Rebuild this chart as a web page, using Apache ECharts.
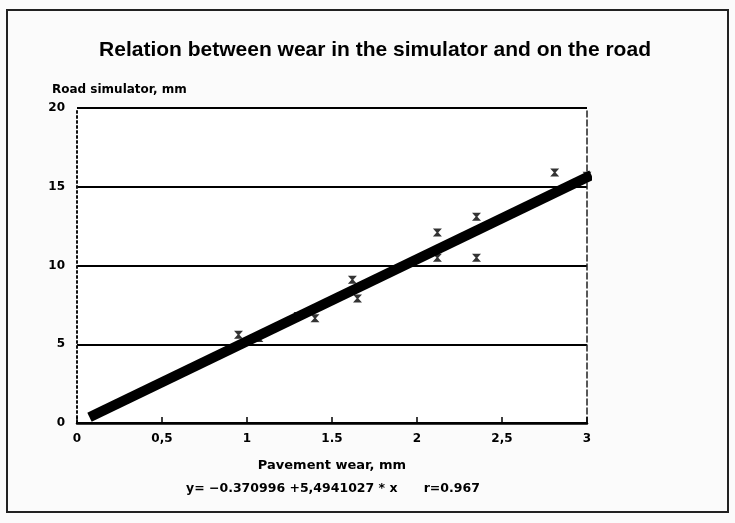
<!DOCTYPE html>
<html>
<head>
<meta charset="utf-8">
<script src="https://cdn.jsdelivr.net/npm/echarts@6/dist/echarts.min.js"></script>
<style>
  html, body { margin: 0; padding: 0; background: #fbfbfb; }
  #chart { width: 735px; height: 523px; }
</style>
</head>
<body>
<div id="chart"></div>
<script>
// measured points: pavement wear (mm) vs simulator wear (mm)
const pavementWear = [0.95, 1.07, 1.3, 1.4, 1.62, 1.65, 2.12, 2.12, 2.35, 2.35, 2.81, 3.0]
const simulatorWear = [5.6, 5.4, 6.8, 6.65, 9.1, 7.9, 12.1, 10.5, 13.1, 10.5, 15.9, 15.7]

// fitted line ends, as drawn
const fitX = [0.1, 3.0]
const fitY = [0.5, 15.6]

const xTickLabels = { 0: '0', 0.5: '0,5', 1: '1', 1.5: '1.5', 2: '2', 2.5: '2,5', 3: '3' }
const yTickLabels = ['0', '5', '10', '15', '20']

const font = 'Liberation Sans, Arial, sans-serif'
const wide = 'DejaVu Sans, Liberation Sans, sans-serif'

const chart = echarts.init(document.getElementById('chart'))

const option = {
  animation: false,
  backgroundColor: '#fbfbfb',
  title: {
    text: 'Relation between wear in the simulator and on the road',
    left: 370,
    textAlign: 'center',
    top: 35,
    textStyle: { fontFamily: font, fontWeight: 'bold', fontSize: 21, color: '#000' }
  },
  grid: { left: 77, right: 148, top: 108, bottom: 100, backgroundColor: '#fff', show: true, borderWidth: 0 },
  xAxis: {
    type: 'value',
    min: 0,
    max: 3,
    interval: 0.5,
    axisLine: { lineStyle: { color: '#000', width: 2.5 } },
    axisTick: { inside: true, length: 6, lineStyle: { color: '#000', width: 1.5 } },
    axisLabel: {
      margin: 10,
      fontFamily: wide, fontWeight: 'bold', fontSize: 12, color: '#000',
      formatter: v => xTickLabels[v]
    },
    splitLine: { show: false },
    name: 'Pavement wear, mm',
    nameLocation: 'middle',
    nameGap: 36,
    nameTextStyle: { fontFamily: wide, fontWeight: 'bold', fontSize: 13, color: '#000' }
  },
  yAxis: [{
    type: 'value',
    min: 0,
    max: 20,
    interval: 5,
    axisLine: { show: true, lineStyle: { color: '#111', width: 2, type: [2, 3] } },
    axisTick: { show: false },
    axisLabel: {
      margin: 12,
      fontFamily: wide, fontWeight: 'bold', fontSize: 12, color: '#000',
      formatter: v => yTickLabels[v / 5]
    },
    splitLine: { show: true, lineStyle: { color: '#000', width: 2 } },
    name: 'Road simulator, mm',
    nameLocation: 'end',
    nameGap: 12,
    nameTextStyle: { fontFamily: wide, fontWeight: 'bold', fontSize: 12, color: '#000', align: 'left', padding: [0, 0, 0, -25] }
  }, {
    type: 'value',
    position: 'right',
    min: 0,
    max: 20,
    interval: 5,
    axisLine: { show: true, lineStyle: { color: '#222', width: 1.5, type: [6, 3] } },
    axisTick: { show: false },
    axisLabel: { show: false },
    splitLine: { show: false }
  }],
  series: [
    {
      type: 'line',
      data: fitX.map((x, i) => [x, fitY[i]]),
      symbol: 'none',
      lineStyle: { color: '#000', width: 10, cap: 'square' },
      z: 3
    },
    {
      type: 'scatter',
      data: pavementWear.map((x, i) => [x, simulatorWear[i]]),
      symbol: 'path://M0,0 L10,0 L6,5 L10,10 L0,10 L4,5 Z',
      symbolSize: [9, 8],
      itemStyle: { color: '#000' },
      z: 4
    }
  ],
  graphic: [
    {
      type: 'text',
      x: 186,
      y: 482,
      style: {
        text: 'y= \u22120.370996 +5,4941027 * x      r=0.967',
        font: 'bold 12.5px ' + wide,
        fill: '#000'
      }
    },
    {
      type: 'rect',
      shape: { x: 7, y: 10, width: 721, height: 502 },
      style: { fill: 'none', stroke: '#222', lineWidth: 2 }
    }
  ]
}

chart.setOption(option)
</script>
</body>
</html>
